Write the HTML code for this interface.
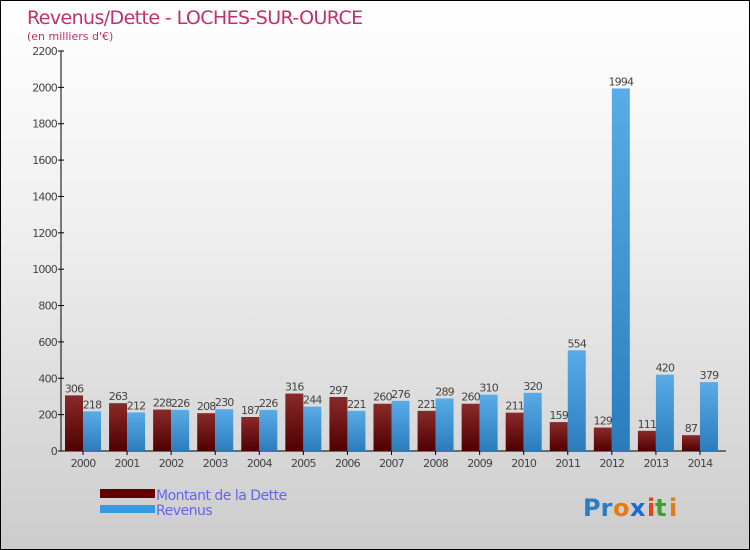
<!DOCTYPE html>
<html><head><meta charset="utf-8"><style>
body{margin:0}
#c{position:relative;width:748px;height:548px;border:1px solid #000;background:linear-gradient(#fff,#f0f0f0 40%,#ccc);font-family:"DejaVu Sans","Liberation Sans",sans-serif;overflow:hidden}
</style></head><body>
<div id="c">
<svg width="748" height="548">
<defs>
<linearGradient id="gd" x1="0" y1="0" x2="0" y2="1"><stop offset="0" stop-color="#8a2a2a"/><stop offset="1" stop-color="#4f0000"/></linearGradient>
<linearGradient id="gr" x1="0" y1="0" x2="0" y2="1"><stop offset="0" stop-color="#5aace8"/><stop offset="1" stop-color="#2a7cbc"/></linearGradient>
</defs>
<text x="26" y="23" font-size="19" fill="#c0306a" letter-spacing="-0.6">Revenus/Dette - LOCHES-SUR-OURCE</text>
<text x="26" y="39" font-size="11" fill="#c0306a">(en milliers d'€)</text>
<g id="axes"></g><g id="bars"></g>
<rect x="99" y="488" width="55" height="9" fill="#600000"/>
<rect x="99" y="504" width="55" height="8" fill="#3a9ae0"/>
<text x="155" y="499" font-size="14" fill="#6464f0" letter-spacing="-0.5">Montant de la Dette</text>
<text x="155" y="514" font-size="14" fill="#6464f0" letter-spacing="-0.5">Revenus</text>
<g font-size="24" font-weight="bold"><text x="582" y="515" fill="#2a7cc8">Pr</text><text x="612" y="515" fill="#e87a10">o</text><text x="629" y="515" fill="#1a6ad0">x</text><text x="646" y="515" fill="#e84010">i</text><text x="654" y="515" fill="#40a030">t</text><text x="668" y="515" fill="#e87a10">i</text></g>
</svg></div>
<script>
const years=["2000","2001","2002","2003","2004","2005","2006","2007","2008","2009","2010","2011","2012","2013","2014"];
const dette=[306,263,228,208,187,316,297,260,221,260,211,159,129,111,87];
const revenus=[218,212,226,230,226,244,221,276,289,310,320,554,1994,420,379];
const yTicks=[0,200,400,600,800,1000,1200,1400,1600,1800,2000,2200];
const NS="http://www.w3.org/2000/svg";
const y=v=>450-v*400/2200, x=i=>82+i*44.07;
function mk(t,a,p){const e=document.createElementNS(NS,t);for(const k in a)e.setAttribute(k,a[k]);p.appendChild(e);return e;}
const ax=document.getElementById('axes'),bg=document.getElementById('bars');
const yl=mk('line',{x1:60,y1:50,x2:60,y2:450,stroke:'#000'},ax);


const xl=mk('line',{x1:60,y1:450,x2:725,y2:450,stroke:'#000'},ax);


yTicks.forEach(v=>{mk('line',{x1:57,x2:63,y1:y(v),y2:y(v),stroke:'#000'},ax);
const t=mk('text',{x:56,y:y(v)+4,'font-size':11,'text-anchor':'end',fill:'#444','letter-spacing':'-0.8'},ax);t.textContent=v;

});
years.forEach((yr,i)=>{const c=x(i);
const t=mk('text',{x:c,y:466,'font-size':11,'text-anchor':'middle',fill:'#444','letter-spacing':'-0.8'},ax);t.textContent=yr;


mk('line',{x1:c,x2:c,y1:450,y2:454,stroke:'#000'},ax);
const b1=mk('rect',{x:c-18,y:y(dette[i]),width:18,height:450-y(dette[i]),fill:'url(#gd)'},bg);


const b2=mk('rect',{x:c,y:y(revenus[i]),width:18,height:450-y(revenus[i]),fill:'url(#gr)'},bg);


const l1=mk('text',{x:c-9,y:y(dette[i])-3,'font-size':11,'text-anchor':'middle',fill:'#444','letter-spacing':'-0.8'},bg);l1.textContent=dette[i];


const l2=mk('text',{x:c+9,y:y(revenus[i])-3,'font-size':11,'text-anchor':'middle',fill:'#444','letter-spacing':'-0.8'},bg);l2.textContent=revenus[i];

});
</script>
</body></html>
